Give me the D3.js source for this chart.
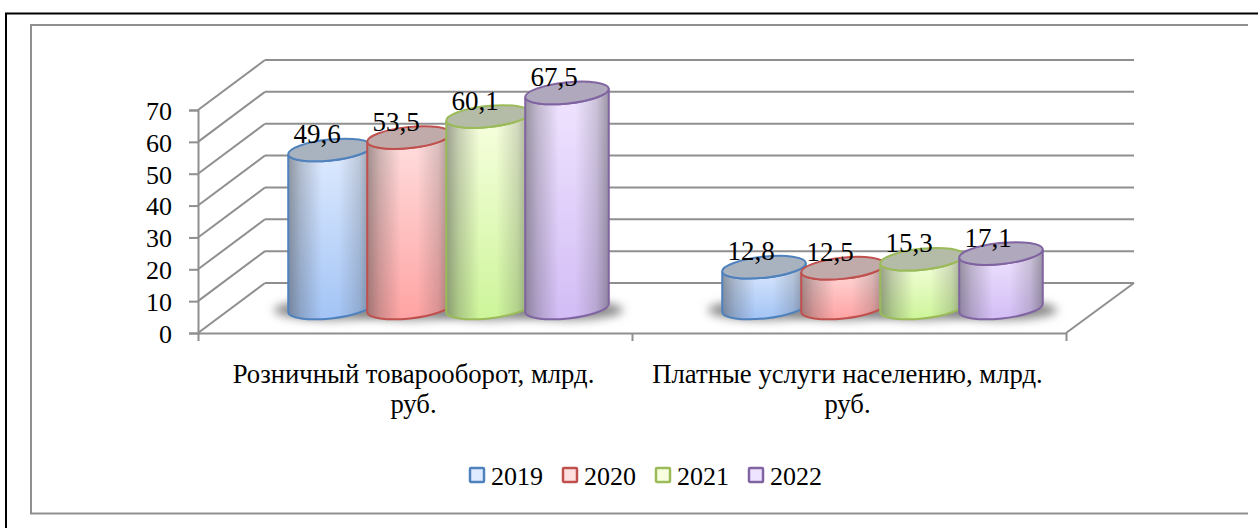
<!DOCTYPE html>
<html>
<head>
<meta charset="utf-8">
<script src="https://d3js.org/d3.v7.min.js"></script>
<style>
  html, body { margin: 0; padding: 0; background: #fff; }
  svg { display: block; }
  text { font-family: "Liberation Serif", serif; fill: #000; }
  .axis path, .axis line, .wall { stroke: #8f8f8f; stroke-width: 2px; fill: none; }
</style>
</head>
<body>
<script>
const categories = [
  ['Розничный товарооборот, млрд.', 'руб.'],
  ['Платные услуги населению, млрд.', 'руб.']
]
const years = ['2019', '2020', '2021', '2022']
const retail = [49.6, 53.5, 60.1, 67.5]
const services = [12.8, 12.5, 15.3, 17.1]
const yTicks = [0, 10, 20, 30, 40, 50, 60, 70]

const edge = ['#4f81bd', '#c0504d', '#9bbb59', '#8064a2']
const pale = ['#dfebff', '#ffdfdf', '#f8ffe0', '#efe4ff']
const deep = ['#a3c4f5', '#ffa3a3', '#cdf59a', '#d3bdf5']
const lid = ['#a9b3c0', '#c0aaaa', '#b4bca8', '#b0a8bc']

const width = 1258, height = 528
const fontSize = 26
const catFontSize = 26.7
const valueFontSize = 27
// plot corners, the floor is an oblique parallelogram
const plotLeft = 198, plotRight = 1066, plotBottom = 333, plotTop = 110
const depthX = 67, depthY = 50

const svg = d3.select('body').append('svg')
  .attr('width', width)
  .attr('height', height)

const defs = svg.append('defs')

defs.append('filter').attr('id', 'blur')
  .attr('x', '-30%').attr('y', '-100%').attr('width', '160%').attr('height', '300%')
  .append('feGaussianBlur').attr('stdDeviation', 5)

// shading across the cylinder, on top of the colour
const shade = defs.append('linearGradient').attr('id', 'shade')
;[[0, 0.5], [0.15, 0.26], [0.4, 0], [0.6, 0], [0.85, 0.2], [1, 0.48]].forEach(s => {
  shade.append('stop').attr('offset', s[0]).attr('stop-color', '#444').attr('stop-opacity', s[1])
})

years.forEach((y, i) => {
  const g = defs.append('linearGradient').attr('id', 'fill' + i)
    .attr('x1', 0).attr('y1', 0).attr('x2', 0).attr('y2', 1)
  g.append('stop').attr('offset', 0).attr('stop-color', pale[i])
  g.append('stop').attr('offset', 1).attr('stop-color', deep[i])
})

// frames, open on the far sides
svg.append('path').attr('d', 'M6,528V13.5H1258')
  .attr('fill', 'none').attr('stroke', '#000').attr('stroke-width', 2)
svg.append('path').attr('d', 'M1248,25H31V513.5H1248')
  .attr('fill', 'none').attr('stroke', '#8f8f8f').attr('stroke-width', 2)

const yScale = d3.scaleLinear().domain([0, 70]).range([plotBottom, plotTop])
const xScale = d3.scaleBand().domain(d3.range(categories.length)).range([plotLeft, plotRight])
const seriesScale = d3.scaleBand().domain(years).range([-158, 158])
const tickScale = d3.scaleLinear().domain([0, categories.length]).range([plotLeft, plotRight])

// walls
svg.selectAll('.back').data(yTicks).enter().append('line')
  .attr('class', 'wall back')
  .attr('x1', plotLeft).attr('y1', d => yScale(d))
  .attr('x2', plotLeft + depthX).attr('y2', d => yScale(d) - depthY)
svg.selectAll('.grid').data(yTicks).enter().append('line')
  .attr('class', 'wall grid')
  .attr('x1', plotLeft + depthX).attr('y1', d => yScale(d) - depthY)
  .attr('x2', plotRight + depthX + 1).attr('y2', d => yScale(d) - depthY)
svg.append('line').attr('class', 'wall')
  .attr('x1', plotRight).attr('y1', plotBottom)
  .attr('x2', plotRight + depthX + 1).attr('y2', plotBottom - depthY)

// axes
const yAxis = d3.axisLeft(yScale).tickValues(yTicks).tickSize(9).tickPadding(17)
const xAxis = d3.axisBottom(tickScale).tickValues(d3.range(categories.length + 1))
  .tickFormat('').tickSize(8).tickSizeOuter(0)

const yG = svg.append('g').attr('class', 'axis y')
  .attr('transform', `translate(${plotLeft}, 0)`)
  .call(yAxis)
yG.selectAll('text')
  .attr('dy', '0.36em')
  .style('font-size', fontSize + 'px')
  .style('font-family', '"Liberation Serif", serif')

svg.append('g').attr('class', 'axis x')
  .attr('transform', `translate(0, ${plotBottom})`)
  .call(xAxis)

// category labels
const catLabels = svg.selectAll('.cat').data(categories).enter().append('text')
  .attr('class', 'cat')
  .attr('text-anchor', 'middle')
  .style('font-size', catFontSize + 'px')
catLabels.selectAll('tspan').data((d, i) => d.map(t => ({t, i}))).enter().append('tspan')
  .attr('x', d => xScale(d.i) + xScale.bandwidth() / 2 - 1.5)
  .attr('y', (d, j) => 382.5 + j * 30.5)
  .text(d => d.t)

const groups = [retail, services]
const rx = 42, ry = 10.5, tilt = -6
const baseY = plotBottom - depthY / 2

const rad = tilt * Math.PI / 180
const ex = rx * Math.cos(rad), ey = rx * Math.sin(rad)

function centerX(c, year) {
  return xScale(c) + xScale.bandwidth() / 2 + depthX / 2 + seriesScale(year) + seriesScale.bandwidth() / 2
}

function body(cx, topY) {
  return `M${cx - ex},${topY - ey}` +
    `L${cx - ex},${baseY - ey}` +
    `A${rx},${ry} ${tilt} 0 0 ${cx + ex},${baseY + ey}` +
    `L${cx + ex},${topY + ey}` +
    `A${rx},${ry} ${tilt} 0 1 ${cx - ex},${topY - ey}Z`
}

groups.forEach((values, c) => {
  const g = svg.append('g').attr('class', 'group')

  // shadow goes under the whole group
  g.selectAll('.shadow').data(values).enter().append('ellipse')
    .attr('class', 'shadow')
    .attr('cx', (d, i) => centerX(c, years[i]))
    .attr('cy', baseY + 2)
    .attr('rx', rx + 14)
    .attr('ry', 10)
    .attr('fill', '#8a8a8a')
    .attr('filter', 'url(#blur)')

  const bars = g.selectAll('.bar').data(values).enter().append('g').attr('class', 'bar')

  bars.append('path')
    .attr('d', (d, i) => body(centerX(c, years[i]), yScale(d) - depthY / 2))
    .attr('fill', (d, i) => `url(#fill${i})`)
  bars.append('path')
    .attr('d', (d, i) => body(centerX(c, years[i]), yScale(d) - depthY / 2))
    .attr('fill', 'url(#shade)')
    .attr('stroke', (d, i) => edge[i])
    .attr('stroke-width', 2)
  bars.append('ellipse')
    .attr('transform', (d, i) => `translate(${centerX(c, years[i])}, ${yScale(d) - depthY / 2}) rotate(${tilt})`)
    .attr('rx', rx).attr('ry', ry)
    .attr('fill', (d, i) => lid[i])
    .attr('stroke', (d, i) => edge[i])
    .attr('stroke-width', 2)

  // labels sit above the lids, shifted a bit to the left
  g.selectAll('.value').data(values).enter().append('text')
    .attr('class', 'value')
    .attr('x', (d, i) => centerX(c, years[i]) - 13)
    .attr('y', d => yScale(d) - depthY / 2 - 7)
    .attr('text-anchor', 'middle')
    .style('font-size', valueFontSize + 'px')
    .text(d => String(d).replace('.', ','))
})

// legend
const legendX = d3.scaleBand().domain(years).range([469, 841])
const legend = svg.selectAll('.legend').data(years).enter().append('g')
  .attr('class', 'legend')
  .attr('transform', d => `translate(${legendX(d)}, 0)`)

legend.append('rect')
  .attr('x', 1).attr('y', 468)
  .attr('width', 14).attr('height', 14).attr('rx', 1)
  .attr('fill', (d, i) => pale[i])
  .attr('stroke', (d, i) => edge[i])
  .attr('stroke-width', 2.5)
legend.append('text')
  .attr('x', 22).attr('y', 485)
  .style('font-size', fontSize + 'px')
  .text(d => d)
</script>
</body>
</html>
